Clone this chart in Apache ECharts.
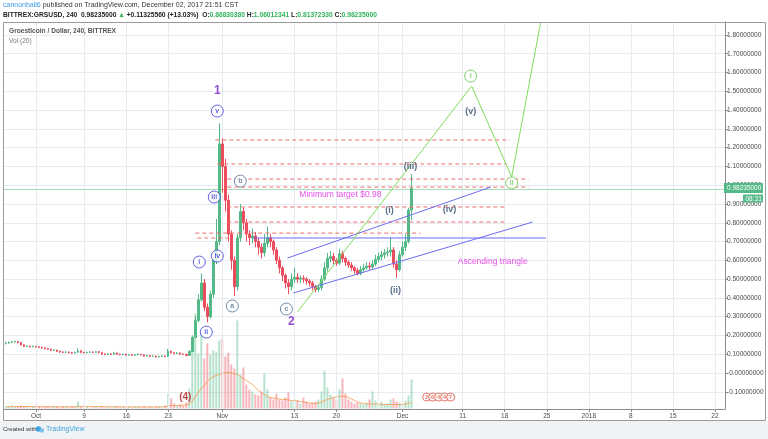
<!DOCTYPE html>
<html><head><meta charset="utf-8">
<script src="https://cdn.jsdelivr.net/npm/echarts@6/dist/echarts.min.js"></script>
<style>html,body{margin:0;padding:0;background:#fff}#c{width:768px;height:439px}</style>
</head><body><div id="c"></div><script>
// ---------- DATA ----------
const candleStart = '2017-09-26T00:00'; // 12h candles
// [open, close, low, high]
const candles = [
[0.158,0.160,0.152,0.166],[0.160,0.162,0.156,0.168],[0.162,0.166,0.160,0.170],[0.166,0.168,0.162,0.172],
[0.168,0.163,0.158,0.170],[0.163,0.150,0.146,0.165],[0.150,0.142,0.138,0.153],[0.142,0.143,0.138,0.148],
[0.143,0.140,0.136,0.146],[0.140,0.142,0.137,0.146],[0.142,0.140,0.136,0.145],[0.140,0.137,0.133,0.143],
[0.137,0.134,0.130,0.140],[0.134,0.130,0.126,0.137],[0.130,0.127,0.123,0.133],[0.127,0.121,0.117,0.129],
[0.121,0.122,0.117,0.126],[0.122,0.116,0.112,0.124],[0.116,0.112,0.108,0.119],[0.112,0.110,0.106,0.115],
[0.110,0.112,0.107,0.116],[0.112,0.108,0.104,0.114],[0.108,0.106,0.102,0.111],[0.106,0.110,0.104,0.114],
[0.110,0.118,0.108,0.132],[0.118,0.110,0.106,0.120],[0.110,0.108,0.104,0.113],[0.108,0.110,0.105,0.114],
[0.110,0.112,0.107,0.116],[0.112,0.110,0.106,0.115],[0.110,0.114,0.108,0.118],[0.114,0.109,0.105,0.116],
[0.109,0.101,0.097,0.111],[0.101,0.099,0.095,0.104],[0.099,0.102,0.097,0.106],[0.102,0.100,0.096,0.105],
[0.100,0.106,0.098,0.112],[0.106,0.100,0.096,0.108],[0.100,0.098,0.094,0.103],[0.098,0.100,0.095,0.104],
[0.100,0.096,0.092,0.102],[0.096,0.098,0.093,0.102],[0.098,0.095,0.091,0.100],[0.095,0.097,0.092,0.101],
[0.097,0.100,0.094,0.104],[0.100,0.097,0.093,0.102],[0.097,0.091,0.087,0.099],[0.091,0.093,0.088,0.097],
[0.093,0.089,0.085,0.095],[0.089,0.090,0.085,0.094],[0.090,0.086,0.082,0.092],[0.086,0.088,0.083,0.092],
[0.088,0.090,0.085,0.094],[0.090,0.088,0.084,0.093],[0.088,0.116,0.086,0.128],[0.116,0.108,0.104,0.120],
[0.108,0.104,0.100,0.111],[0.104,0.107,0.101,0.111],[0.107,0.101,0.097,0.109],[0.101,0.100,0.096,0.104],
[0.100,0.094,0.090,0.102],[0.094,0.115,0.092,0.122],[0.115,0.190,0.112,0.200],[0.190,0.280,0.185,0.300],
[0.280,0.390,0.270,0.420],[0.390,0.480,0.380,0.530],[0.480,0.350,0.330,0.500],[0.350,0.300,0.270,0.370],
[0.300,0.420,0.290,0.440],[0.420,0.600,0.400,0.620],[0.600,0.700,0.580,0.820],[0.700,1.220,0.680,1.330],
[1.220,1.100,0.960,1.250],[1.100,0.920,0.860,1.140],[0.920,0.740,0.700,0.950],[0.740,0.600,0.550,0.760],
[0.600,0.460,0.410,0.620],[0.460,0.720,0.440,0.740],[0.720,0.860,0.700,0.900],[0.860,0.800,0.760,0.880],
[0.800,0.740,0.700,0.820],[0.740,0.720,0.680,0.760],[0.720,0.730,0.690,0.770],[0.730,0.700,0.670,0.750],
[0.700,0.670,0.630,0.720],[0.670,0.640,0.610,0.690],[0.640,0.690,0.620,0.740],[0.690,0.720,0.670,0.780],
[0.720,0.700,0.670,0.740],[0.700,0.655,0.630,0.710],[0.655,0.600,0.580,0.670],[0.600,0.560,0.530,0.620],
[0.560,0.520,0.490,0.570],[0.520,0.480,0.450,0.530],[0.480,0.460,0.420,0.500],[0.460,0.500,0.440,0.530],
[0.500,0.510,0.480,0.560],[0.510,0.500,0.480,0.530],[0.500,0.505,0.480,0.520],[0.505,0.500,0.480,0.520],
[0.500,0.490,0.470,0.510],[0.490,0.480,0.460,0.500],[0.480,0.460,0.440,0.490],[0.460,0.445,0.430,0.470],
[0.445,0.455,0.430,0.470],[0.455,0.500,0.440,0.520],[0.500,0.560,0.490,0.590],[0.560,0.610,0.540,0.640],
[0.610,0.620,0.590,0.650],[0.620,0.600,0.580,0.640],[0.600,0.585,0.570,0.610],[0.585,0.635,0.575,0.660],
[0.635,0.610,0.590,0.650],[0.610,0.590,0.570,0.620],[0.590,0.575,0.560,0.600],[0.575,0.560,0.545,0.590],
[0.560,0.545,0.530,0.570],[0.545,0.530,0.520,0.560],[0.530,0.550,0.520,0.570],[0.550,0.560,0.540,0.580],
[0.560,0.570,0.550,0.590],[0.570,0.565,0.550,0.590],[0.565,0.580,0.555,0.600],[0.580,0.605,0.570,0.630],
[0.605,0.620,0.590,0.640],[0.620,0.630,0.600,0.650],[0.630,0.640,0.610,0.660],[0.640,0.645,0.620,0.670],
[0.645,0.655,0.620,0.720],[0.655,0.580,0.560,0.670],[0.580,0.550,0.505,0.600],[0.550,0.630,0.540,0.650],
[0.630,0.670,0.620,0.700],[0.670,0.700,0.650,0.740],[0.700,0.868,0.690,0.880],[0.868,0.982,0.814,1.060]
];
const volumes = [
2,2,3,2,2,3,2,2,1,2,2,2,1,2,2,1,2,2,1,2,2,1,2,2,
7,
2,1,2,1,2,2,1,2,1,2,1,2,2,1,2,1,2,1,2,2,1,2,1,2,1,2,2,1,3,
15,10,5,3,4,3,6,
20,58,95,55,75,50,65,54,58,57,68,70,52,56,44,40,88,34,41,24,19,17,14,13,17,35,19,11,9,15,9,8,11,16,
7,9,8,5,11,7,5,6,7,9,17,38,21,14,11,9,19,30,15,9,7,5,6,5,4,6,9,17,8,5,7,4,5,9,10,7,6,5,8,13,29
];
const volumeMA = [
1.8,1.8,1.9,1.9,1.9,2,2,2,1.9,1.9,1.9,1.9,1.8,1.8,1.8,1.8,1.8,1.8,1.7,1.7,1.7,1.7,1.7,1.7,
2.1,2.1,2.1,2.1,2.1,2.1,2,2,1.8,1.8,1.7,1.7,1.7,1.7,1.7,1.7,1.6,1.6,1.6,1.6,1.6,1.6,1.6,1.6,1.6,1.6,1.6,1.6,1.7,1.7,
2.5,3,3,3,3.2,3.4,3.6,
4.5,7,12,16,20,23,27,30,32,33,34,35,36,36,35.5,35,34,32,30,28,26,24,21,18,16,14,12,11,10.5,10,9.5,9,9,8.5,
8,8,7.5,7,6.5,6,5.5,5,5,5.5,6.5,8,9,10,11,11.5,12,12.5,12,11,9.5,8,6.5,5.5,5,4.5,4.5,4.5,4.5,4.5,4,4,4,4,4,4,4,4,4.5,5,6
];
const xTickDates = ['2017-10-01','2017-10-09','2017-10-16','2017-10-23','2017-11-01','2017-11-13','2017-11-20',
  '2017-12-01','2017-12-11','2017-12-18','2017-12-25','2018-01-01','2018-01-08','2018-01-15','2018-01-22'];
const xTickLabels = ['Oct','9','16','23','Nov','13','20','Dec','11','18','25','2018','8','15','22'];
const xGridDates = ['2017-10-01','2017-10-09','2017-10-16','2017-10-23','2017-11-01','2017-11-13','2017-11-20','2017-11-27',
  '2017-12-01','2017-12-11','2017-12-18','2017-12-25','2018-01-01','2018-01-08','2018-01-15','2018-01-22'];
const yTicks = [-0.1,0,0.1,0.2,0.3,0.4,0.5,0.6,0.7,0.8,0.9,1.0,1.1,1.2,1.3,1.4,1.5,1.6,1.7,1.8];
const lastPrice = 0.98235;

// drawings (date, price)
const fibLines = [
  [1.241,'2017-10-30T20:00','2017-12-18T20:00'],
  [1.113,'2017-10-31T04:00','2017-12-18T04:00'],
  [1.033,'2017-11-01T20:00','2017-12-22T00:00'],
  [0.990,'2017-11-01T20:00','2017-12-22T00:00'],
  [0.884,'2017-11-01T20:00','2017-12-18T04:00'],
  [0.804,'2017-11-01T20:00','2017-12-18T04:00'],
  [0.745,'2017-10-27T12:00','2017-12-04T00:00'],
  [0.719,'2017-10-27T20:00','2017-11-02T16:00']
];
const triangleLines = [
  [['2017-11-11T20:00',0.612],['2017-12-15T16:00',0.990]],
  [['2017-11-12T20:00',0.426],['2017-12-22T16:00',0.804]],
  [['2017-11-06T00:00',0.719],['2017-12-24T20:00',0.719]]
];
const projection = [['2017-11-13T12:00',0.325],['2017-12-12T12:00',1.528],['2017-12-19T04:00',1.044],['2017-12-24T00:00',1.869]];
const waveBlue = [['v','2017-10-31T04:00',1.395],['iii','2017-10-30T16:00',0.937],['iv','2017-10-31T04:00',0.623],
  ['i','2017-10-28T04:00',0.591],['ii','2017-10-29T08:00',0.218]];
const waveGray = [['a','2017-11-02T16:00',0.357],['b','2017-11-04T00:00',1.022],['c','2017-11-11T16:00',0.341]];
const waveGreen = [['i','2017-12-12T08:00',1.581],['ii','2017-12-19T04:00',1.012]];
const waveMinor = [['(i)','2017-11-28T20:00',0.863],['(ii)','2017-11-29T20:00',0.442],['(iii)','2017-12-02T08:00',1.097],
  ['(iv)','2017-12-08T20:00',0.873],['(v)','2017-12-12T08:00',1.395]];
const wavePrimary = [['1','2017-10-31T04:00',1.502],['2','2017-11-12T12:00',0.272]];
const notes = [['Minimum target $0.98','2017-11-20T16:00',0.948],['Ascending triangle','2017-12-16T00:00',0.591]];
const wave4 = [['(4)','2017-10-25T20:00',-0.128]];
const ideaMarks = [['2','2017-12-05T00:00',-0.128],['6','2017-12-06T00:00',-0.128],['4','2017-12-07T00:00',-0.128],
  ['4','2017-12-08T00:00',-0.128],['7','2017-12-09T00:00',-0.128]];

// ---------- BUILD ----------
const T = s => Date.parse((s.length === 10 ? s + 'T00:00' : s) + 'Z');
const H12 = 12 * 3600 * 1000;
const t0 = T(candleStart);
const times = candles.map((c, i) => t0 + i * H12);
const UP = '#53b987', DN = '#eb4d5c';
const FONT = 'Liberation Sans';
const candleData = candles.map((c, i) => [times[i], c[0], c[1], c[2], c[3]]);
const volData = volumes.map((v, i) => ({ value: [times[i], v],
  itemStyle: { color: candles[i][1] >= candles[i][0] ? 'rgba(83,185,135,0.42)' : 'rgba(235,77,92,0.42)' } }));
const maData = volumeMA.map((v, i) => [times[i], v]);
const xTicks = xTickDates.map(T);
const xGrid = xGridDates.map(T);
const xMin = T('2017-09-25T16:00'), xMax = T('2018-01-23T16:00');
const yMin = -0.1915, yMax = 1.869;

const series = [];
series.push({ type: 'bar', xAxisIndex: 1, yAxisIndex: 1, data: volData, barWidth: 2, z: 1, silent: true, animation: false });
series.push({ type: 'line', xAxisIndex: 1, yAxisIndex: 1, data: maData, showSymbol: false, z: 2,
  lineStyle: { color: 'rgba(247,150,70,0.8)', width: 1 }, animation: false });
// vertical grid lines
series.push({ type: 'line', data: [], xAxisIndex: 0, yAxisIndex: 0, z: 0,
  markLine: { silent: true, symbol: 'none', label: { show: false }, animation: false,
    lineStyle: { color: '#e6ecf1', type: 'solid', width: 1 },
    data: xGrid.map(t => ({ xAxis: t })) } });
// last price line
series.push({ type: 'line', data: [], z: 3,
  markLine: { silent: true, symbol: 'none', label: { show: false }, animation: false,
    lineStyle: { color: '#a6dcb9', type: 'solid', width: 1 }, data: [{ yAxis: lastPrice }] } });
series.push({ type: 'candlestick', data: candleData, barWidth: 2, z: 5, animation: false,
  itemStyle: { color: UP, color0: DN, borderColor: UP, borderColor0: DN, borderWidth: 1 } });
fibLines.forEach(f => series.push({ type: 'line', z: 6, showSymbol: false, animation: false,
  data: [[T(f[1]), f[0]], [T(f[2]), f[0]]], lineStyle: { color: '#f26b6b', type: [4, 3], width: 1 } }));
triangleLines.forEach(l => series.push({ type: 'line', z: 6, showSymbol: false, animation: false,
  data: l.map(p => [T(p[0]), p[1]]), lineStyle: { color: '#6c6cf2', width: 1 } }));
series.push({ type: 'line', z: 6, showSymbol: false, animation: false, clip: true,
  data: projection.map(p => [T(p[0]), p[1]]), lineStyle: { color: '#7ddc5a', width: 1 } });
function circled(list, color, size, fontSize) {
  series.push({ type: 'scatter', z: 8, animation: false, symbol: 'circle', symbolSize: size || 11,
    itemStyle: { color: '#fff', borderColor: color, borderWidth: 1 },
    label: { show: true, position: 'inside', formatter: p => p.data.name, color: color,
      fontSize: fontSize || 7, fontWeight: 'bold', fontFamily: FONT },
    data: list.map(w => ({ name: w[0], value: [T(w[1]), w[2]] })) });
}
circled(waveBlue, '#3b3bdc', 12);
circled(waveGray, '#4d6f93', 12);
circled(waveGreen, '#5fc94a', 12);
circled(ideaMarks, '#e0533f', 8, 5.5);
function texts(list, color, size, weight) {
  series.push({ type: 'scatter', z: 8, animation: false, symbol: 'circle', symbolSize: 1,
    itemStyle: { color: 'rgba(0,0,0,0)' },
    label: { show: true, position: 'inside', formatter: p => p.data.name, color: color,
      fontSize: size, fontWeight: weight, fontFamily: FONT },
    data: list.map(w => ({ name: w[0], value: [T(w[1]), w[2]] })) });
}
texts(waveMinor, '#2e4a6b', 9, 'bold');
texts(wavePrimary, '#7a1fc4', 12, 'bold');
texts(notes, '#e224e2', 8.5, 'normal');
texts(wave4, '#b71c1c', 10, 'bold');

const axisFont = { fontSize: 6.5, color: '#4a4a4a', fontFamily: FONT };
const option = {
  animation: false,
  backgroundColor: '#fff',
  grid: [
    { left: 4, right: 43, top: 22, bottom: 30, show: false },
    { left: 4, right: 43, top: 208.5, bottom: 30.5, show: false }
  ],
  xAxis: [
    { type: 'value', gridIndex: 0, min: xMin, max: xMax,
      axisLine: { show: true, onZero: false, lineStyle: { color: '#8c8c8c' } },
      axisTick: { show: true, length: 3, lineStyle: { color: '#8c8c8c' }, customValues: xTicks },
      axisLabel: { ...axisFont, margin: 4, customValues: xTicks,
        formatter: v => { const i = xTicks.indexOf(v); return i >= 0 ? xTickLabels[i] : ''; } },
      splitLine: { show: false } },
    { type: 'value', gridIndex: 1, min: xMin, max: xMax, show: false, splitLine: { show: false } }
  ],
  yAxis: [
    { type: 'value', gridIndex: 0, position: 'right', min: yMin, max: yMax,
      axisLine: { show: true, onZero: false, lineStyle: { color: '#8c8c8c' } },
      axisTick: { show: true, length: 3, lineStyle: { color: '#8c8c8c' }, customValues: yTicks },
      axisLabel: { ...axisFont, margin: 2, customValues: yTicks,
        formatter: v => (Math.abs(v) < 1e-9 ? '-0.00000000' : v.toFixed(8)) },
      splitLine: { show: true, lineStyle: { color: '#e6ecf1' } } },
    { type: 'value', gridIndex: 1, min: 0, max: 200, show: false, splitLine: { show: false } }
  ],
  series: series,
  graphic: [
    { type: 'rect', shape: { x: 3.5, y: 22.5, width: 762, height: 398 }, style: { fill: 'none', stroke: '#9a9a9a', lineWidth: 1 }, z: 50, silent: true },
    { type: 'rect', shape: { x: 0, y: 421, width: 768, height: 18 }, style: { fill: '#f0f3f6' }, z: 50 },
    { type: 'text', left: 3, top: 2, z: 60, style: { rich: {
        a: { fill: '#3d9be9', fontSize: 7, fontFamily: FONT },
        b: { fill: '#333', fontSize: 7, fontFamily: FONT } },
      text: '{a|cannonball6}{b| published on TradingView.com, December 02, 2017 21:51 CST}' } },
    { type: 'text', left: 3, top: 12, z: 60, style: { rich: {
        k: { fill: '#222', fontSize: 6.7, fontWeight: 'bold', fontFamily: FONT },
        g: { fill: '#2fb35a', fontSize: 6.7, fontWeight: 'bold', fontFamily: FONT } },
      text: '{k|BITTREX:GRSUSD, 240  0.98235000 }{g|▲}{k| +0.11325560 (+13.03%)  O:}{g|0.86830380}{k| H:}{g|1.06012341}{k| L:}{g|0.81372330}{k| C:}{g|0.98235000}' } },
    { type: 'text', left: 9, top: 28, z: 60, style: { text: 'Groestlcoin / Dollar, 240, BITTREX', fill: '#555', fontSize: 6.6, fontWeight: 'bold', fontFamily: FONT } },
    { type: 'text', left: 9, top: 38, z: 60, style: { text: 'Vol (20)', fill: '#777', fontSize: 6.6, fontFamily: FONT } },
    { type: 'rect', shape: { x: 724, y: 183, width: 39, height: 10 }, style: { fill: '#53b987' }, z: 60 },
    { type: 'text', left: 727, top: 184.5, z: 61, style: { text: '0.98235000', fill: '#fff', fontSize: 6.5, fontFamily: FONT } },
    { type: 'rect', shape: { x: 743, y: 194.5, width: 20, height: 8 }, style: { fill: '#53b987' }, z: 60 },
    { type: 'text', left: 745.5, top: 195.5, z: 61, style: { text: '08:31', fill: '#fff', fontSize: 6.5, fontFamily: FONT } },
    { type: 'text', left: 3, top: 426, z: 60, style: { text: 'Created with', fill: '#333', fontSize: 6, fontFamily: FONT } },
    { type: 'circle', shape: { cx: 38.5, cy: 429, r: 2.8 }, style: { fill: '#3da5e0' }, z: 60 },
    { type: 'circle', shape: { cx: 42, cy: 430.5, r: 2.2 }, style: { fill: '#7cc4ee' }, z: 60 },
    { type: 'text', left: 46, top: 426, z: 60, style: { text: 'TradingView', fill: '#3da5e0', fontSize: 7, fontFamily: FONT } }
  ]
};
const chart = echarts.init(document.getElementById('c'), null, { renderer: 'canvas' });
chart.setOption(option);
</script></body></html>
